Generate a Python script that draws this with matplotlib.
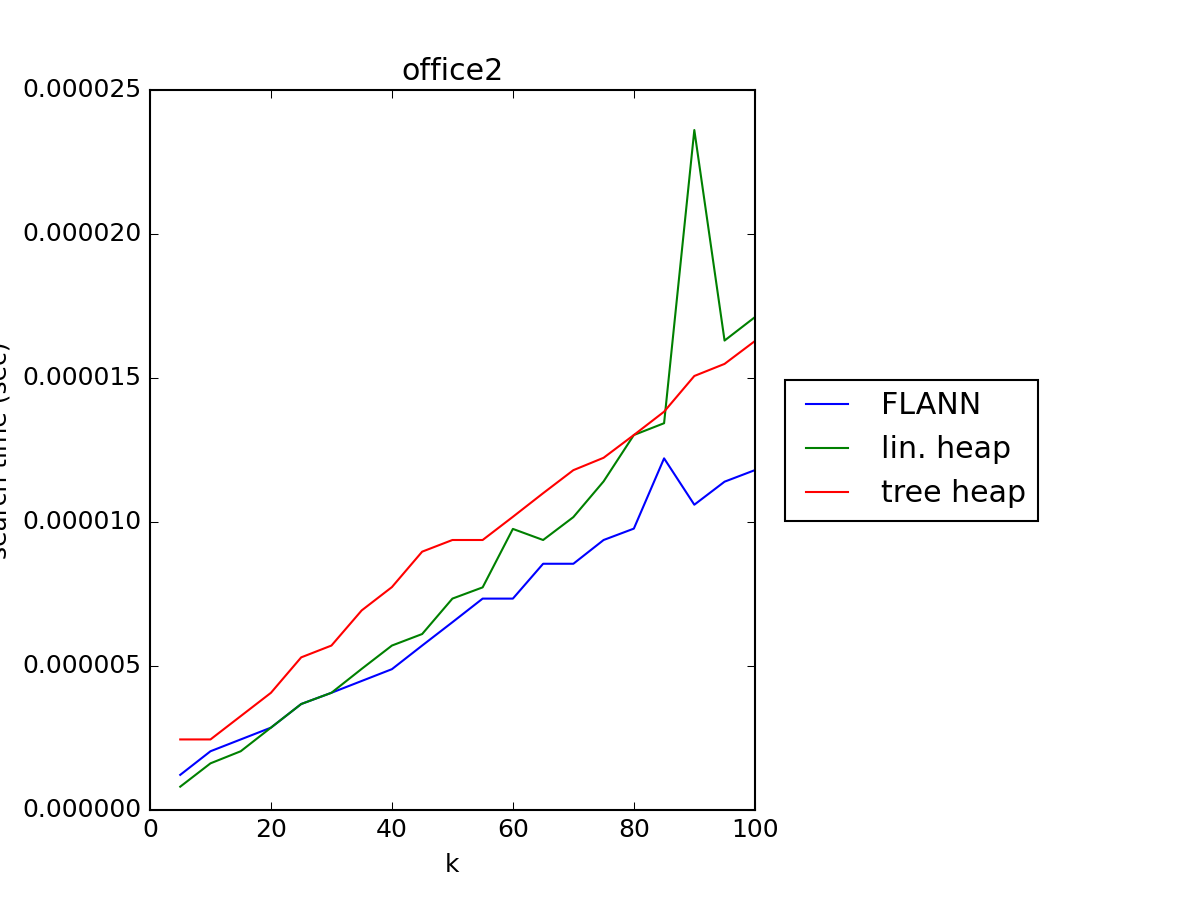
import numpy as np
import matplotlib
matplotlib.use("Agg")
import matplotlib.pyplot as plt

plt.style.use("classic")

# k values and search times (sec)
k = [5, 10, 15, 20, 25, 30, 35, 40, 45, 50, 55, 60, 65, 70, 75, 80, 85, 90, 95, 100]
flann = [1.22e-6, 2.04e-6, 2.45e-6, 2.86e-6, 3.68e-6, 4.07e-6, 4.48e-6, 4.89e-6, 5.71e-6, 6.52e-6,
         7.34e-6, 7.34e-6, 8.55e-6, 8.55e-6, 9.375e-6, 9.77e-6, 1.221e-5, 1.06e-5, 1.14e-5, 1.18e-5]
lin_heap = [8.1e-7, 1.62e-6, 2.04e-6, 2.86e-6, 3.68e-6, 4.07e-6, 4.9e-6, 5.71e-6, 6.11e-6, 7.34e-6,
            7.73e-6, 9.76e-6, 9.375e-6, 1.017e-5, 1.141e-5, 1.302e-5, 1.343e-5, 2.361e-5, 1.63e-5, 1.711e-5]
tree_heap = [2.45e-6, 2.45e-6, 3.26e-6, 4.07e-6, 5.30e-6, 5.71e-6, 6.93e-6, 7.74e-6, 8.97e-6, 9.375e-6,
             9.375e-6, 1.018e-5, 1.10e-5, 1.18e-5, 1.223e-5, 1.302e-5, 1.383e-5, 1.507e-5, 1.549e-5, 1.628e-5]
labels = ["FLANN", "lin. heap", "tree heap"]

fig = plt.figure(figsize=(8, 6), dpi=150)
ax = fig.add_axes([0.125, 0.1, 0.504, 0.8])

ax.plot(k, flann, color="b", label=labels[0])
ax.plot(k, lin_heap, color="g", label=labels[1])
ax.plot(k, tree_heap, color="r", label=labels[2])

ax.set_xlim(0, 100)
ax.set_ylim(0, 2.5e-5)
ax.set_yticks(np.arange(0, 2.6e-5, 5e-6))
ax.set_title("office2")
ax.set_xlabel("k")
ax.set_ylabel("search time (sec)")

# legend sits outside the axes on the right, like the original
ax.legend(loc="center left", bbox_to_anchor=(1.05, 0.5), borderaxespad=0,
          handlelength=2.0)

fig.savefig("out.png", dpi=150)
